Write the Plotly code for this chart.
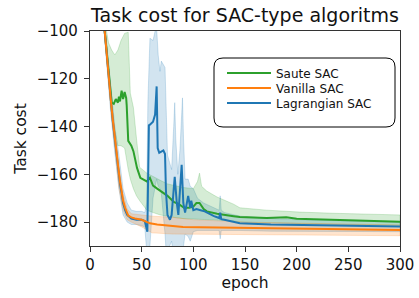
import plotly.graph_objects as go

# ---------------- data ----------------
# Saute SAC (green)
g_ep = [0, 5, 10, 14, 17, 20.3, 21, 23, 25, 27, 28, 29, 30.6, 32, 33.5, 35, 35.5, 37, 40, 42,
        45.5, 48.7, 53.5, 55, 58, 61, 65, 68, 75, 81, 86, 91, 96, 100, 103, 106, 110, 113, 123, 139,
        145, 171, 190, 200, 236, 270, 300]
g_val = [-30, -58, -86, -99, -112, -129.4, -130, -130.5, -128.5, -130, -127.5, -129.5, -125, -128.5, -125.5, -128, -131, -146, -148, -150.3,
         -157.3, -161.5, -162.5, -163, -161.5, -164.7, -166, -167, -169, -171.5, -172.5, -174, -174, -173.5, -172, -172, -174.5, -175.5, -176.5, -177.5,
         -177.9, -178.3, -178, -178.6, -179.1, -179.5, -179.8]
g_band_ep = [0, 10, 14, 18, 21, 24, 27, 30, 33.5, 37, 39, 42, 45, 48, 55, 61, 68, 75, 81, 90,
             100, 104, 106, 108, 113, 123, 139, 145, 171, 203, 236, 270, 300]
g_hi = [-25, -80, -95, -105, -108, -110, -108, -104, -101, -100.5, -126, -132, -145, -157, -159.5, -161, -162.5, -164, -164.7, -165.5,
        -166, -163, -159.5, -165, -167, -169.5, -172.5, -174, -175, -175.8, -176.3, -176.8, -177]
g_lo = [-35, -92, -103, -118, -135, -142, -148, -148, -149, -158, -162, -166, -169, -171, -175, -176, -177, -177.5, -178, -178.5,
        -178.7, -178.8, -178.8, -178.8, -179, -179.2, -179.5, -180, -180.3, -180.6, -181, -181.2, -181.3]

# Vanilla SAC (orange)
o_ep = [0, 5, 10, 14, 17, 20.3, 22, 24.2, 26, 27.5, 29, 30.6, 32, 34, 35.5, 37, 40, 43.5, 50, 55,
        58, 65, 74, 90, 106, 130, 145, 171, 200, 236, 270, 300]
o_val = [-30, -58, -86, -99, -112, -129.4, -137, -145, -153, -158, -163, -167, -171, -174, -175.6, -177.3, -178, -178.5, -179, -180,
         -180.5, -181, -181.4, -182, -182.2, -182.3, -182.6, -182.7, -182.8, -182.9, -183.1, -183.3]
o_band_ep = [0, 10, 14, 20, 24, 28, 32, 36, 40, 50, 60, 80, 100, 150, 200, 250, 300]
o_hi = [-28, -84, -97, -126, -141, -157, -168, -174.5, -176.5, -177, -177.5, -178, -179, -180, -180.5, -181, -181.2]
o_lo = [-32, -88, -101, -132, -149, -166, -175, -179, -180, -182, -184.5, -185, -185, -185.2, -185.5, -185.5, -185.7]

# Lagrangian SAC (blue)
b_ep = [0, 5, 10, 14, 17, 20.3, 22, 24.2, 26, 27.5, 29, 30.6, 32, 34, 36, 40, 45, 50, 53, 55.5,
        57, 58, 61, 63, 64.5, 65.5, 67, 69, 71, 72.6, 73.5, 75, 77.4, 79, 80, 82, 84, 85.5, 88.7, 90.3,
        92, 95, 97, 98, 100, 103, 107, 111, 120, 125, 126, 127, 130, 145, 175, 200, 250, 300]
b_val = [-30, -58, -86, -99, -112, -129.4, -137.5, -146, -154, -159, -164, -168, -172, -175, -177, -178.5, -179, -179, -179.5, -184,
         -139.5, -139.2, -138, -135, -123.2, -149, -151, -150.5, -150, -151.5, -167, -177, -179, -177, -170, -161, -172, -177, -156, -172,
         -176, -169, -174, -171, -175, -174.5, -175, -175.5, -177.5, -178.3, -176, -178.8, -179, -180.5, -181, -181.2, -181.5, -181.8]
b_band_ep = [0, 10, 14, 20, 24, 28, 32, 36, 40, 45, 50, 53, 54.8, 56, 58, 61, 63, 64.5, 66, 67.7,
             69, 72.6, 74, 75, 77, 79, 81, 82, 83, 85, 87, 89.5, 90.5, 92, 95, 97, 100, 104, 110, 120,
             125, 126, 127, 130, 145, 175, 200, 250, 300]
b_hi = [-27, -83, -96, -124, -140, -152, -166, -172, -175, -175.5, -175.5, -176, -172, -130, -103, -104, -100, -99, -110, -116.9,
        -112.6, -115.3, -140, -152, -155, -158, -140, -130, -145, -160, -150, -128, -145, -162, -162, -165, -166, -170, -172, -174,
        -175, -169, -175, -176, -177.5, -178.5, -179, -179.5, -180]
b_lo = [-33, -89, -102, -134, -151, -166, -177, -180, -181, -181, -181.5, -182, -192, -195, -190, -170, -166, -162, -165, -166,
        -168, -185, -195, -195, -190, -188, -195, -195, -195, -195, -195, -192, -190, -185, -186, -188, -184, -183.5, -183.5, -183.5,
        -183.5, -187, -183.5, -183.5, -183.5, -183.8, -184, -184, -184]

series_names = ["Saute SAC", "Vanilla SAC", "Lagrangian SAC"]
x_ticks = [0, 50, 100, 150, 200, 250, 300]
y_ticks = [-180, -160, -140, -120, -100]

GREEN = (44, 160, 44)
ORANGE = (255, 127, 14)
BLUE = (31, 119, 180)


def rgba(c, a):
    return "rgba(%d,%d,%d,%s)" % (c[0], c[1], c[2], a)


fig = go.Figure()


def add_band(ep, hi, lo, col):
    fig.add_trace(go.Scatter(
        x=list(ep) + list(ep)[::-1], y=list(hi) + list(lo)[::-1],
        mode="lines", fill="toself", fillcolor=rgba(col, 0.2),
        line=dict(color=rgba(col, 0.25), width=0.8),
        showlegend=False, hoverinfo="skip"))


add_band(b_band_ep, b_hi, b_lo, BLUE)
add_band(g_band_ep, g_hi, g_lo, GREEN)
add_band(o_band_ep, o_hi, o_lo, ORANGE)

# each series gets its own one-item legend so the rows can be spaced like the original
fig.add_trace(go.Scatter(x=g_ep, y=g_val, mode="lines", name=series_names[0], legend="legend",
                         line=dict(color=rgba(GREEN, 1), width=2)))
fig.add_trace(go.Scatter(x=b_ep, y=b_val, mode="lines", name=series_names[2], legend="legend3",
                         line=dict(color=rgba(BLUE, 1), width=2)))
fig.add_trace(go.Scatter(x=o_ep, y=o_val, mode="lines", name=series_names[1], legend="legend2",
                         line=dict(color=rgba(ORANGE, 1), width=2)))

# full window size; the page's default body margin is removed below
W, H = 419, 298
# plot area in window pixels: x 90..400, y 31..246
L, R, T, B = 90, 419 - 400, 31, 298 - 246
PW, PH = 310.0, 215.0


def px_x(p):
    return (p - 90) / PW


def px_y(p):
    return (246 - p) / PH


# rounded legend frame (paper coordinates)
x0, x1, y0, y1 = px_x(214), px_x(395), px_y(127), px_y(58)
rx, ry = 9 / PW, 9 / PH
path = (f"M{x0+rx},{y0} L{x1-rx},{y0} Q{x1},{y0} {x1},{y0+ry} "
        f"L{x1},{y1-ry} Q{x1},{y1} {x1-rx},{y1} L{x0+rx},{y1} Q{x0},{y1} {x0},{y1-ry} "
        f"L{x0},{y0+ry} Q{x0},{y0} {x0+rx},{y0} Z")
fig.add_shape(type="path", path=path, xref="paper", yref="paper",
              line=dict(color="black", width=1), fillcolor="rgba(255,255,255,0.8)", layer="above")

leg_common = dict(xanchor="left", yanchor="middle", bgcolor="rgba(0,0,0,0)",
                  borderwidth=0, font=dict(size=12, color="#111111"), itemwidth=44)
LX = px_x(222)

AX = "#333333"
fig.update_layout(
    width=W, height=H,
    margin=dict(l=L, r=R, t=T, b=B),
    paper_bgcolor="white", plot_bgcolor="white",
    font=dict(family="DejaVu Sans", color="#111111"),
    title=dict(text="Task cost for SAC-type algoritms", x=0.5, xref="paper", xanchor="center",
               y=1 - 15 / H, yref="container", yanchor="middle",
               font=dict(size=19, color="#111111")),
    legend=dict(x=LX, y=px_y(73), **leg_common),
    legend2=dict(x=LX, y=px_y(88), **leg_common),
    legend3=dict(x=LX, y=px_y(103), **leg_common),
    showlegend=True,
)
fig.update_xaxes(range=[0, 300], tickvals=x_ticks, ticks="outside", ticklen=5, tickwidth=1.2,
                 tickcolor=AX, showline=True, linecolor=AX, linewidth=1.2, mirror=True,
                 showgrid=False, zeroline=False, tickfont=dict(size=15), automargin=False,
                 title=dict(text="epoch", font=dict(size=15.5), standoff=4))
fig.update_yaxes(range=[-190, -100], tickvals=y_ticks, ticks="outside", ticklen=5, tickwidth=1.2,
                 tickcolor=AX, showline=True, linecolor=AX, linewidth=1.2, mirror=True,
                 showgrid=False, zeroline=False, tickfont=dict(size=15), automargin=False,
                 ticklabelstandoff=3,
                 title=dict(text="Task cost", font=dict(size=15.5), standoff=6))

fig.write_html("out.html", config={"displayModeBar": False},
               post_script="document.body.style.margin='0';document.body.style.padding='0';")
